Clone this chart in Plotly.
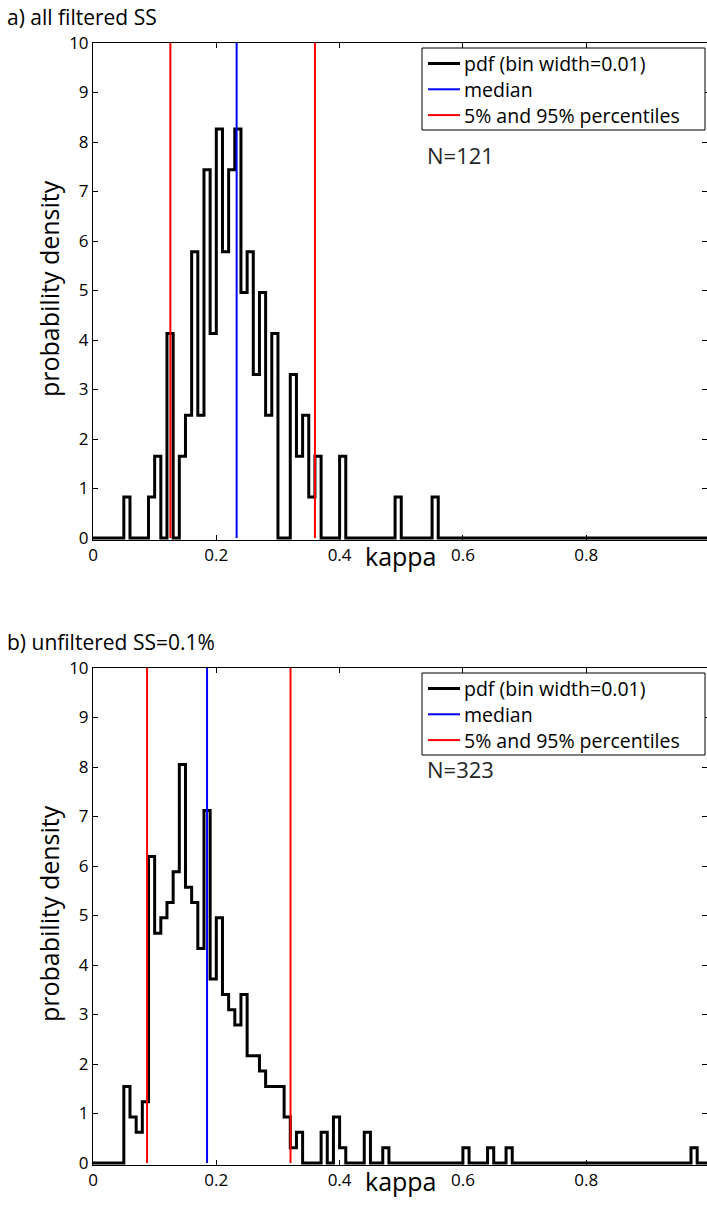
import numpy as np
import plotly.graph_objects as go

BIN_WIDTH = 0.01

# a) all filtered SS
n_a = 121
bins_a = [0.05, 0.09, 0.10, 0.12, 0.14, 0.15, 0.16, 0.17, 0.18, 0.19, 0.20, 0.21, 0.22, 0.23,
          0.24, 0.25, 0.26, 0.27, 0.28, 0.29, 0.32, 0.33, 0.34, 0.35, 0.36, 0.40, 0.49, 0.55]
counts_a = [1, 1, 2, 5, 2, 3, 7, 3, 9, 5, 10, 7, 9, 10,
            6, 7, 4, 6, 3, 5, 4, 2, 3, 1, 2, 2, 1, 1]
median_a = 0.233
pct_a = [0.1255, 0.360]

# b) unfiltered SS=0.1%
n_b = 323
bins_b = [0.05, 0.06, 0.07, 0.08, 0.09, 0.10, 0.11, 0.12, 0.13, 0.14, 0.15, 0.16, 0.17, 0.18,
          0.19, 0.20, 0.21, 0.22, 0.23, 0.24, 0.25, 0.26, 0.27, 0.28, 0.29, 0.30, 0.31, 0.32,
          0.33, 0.37, 0.39, 0.40, 0.44, 0.47, 0.60, 0.64, 0.67, 0.97]
counts_b = [5, 3, 2, 4, 20, 15, 16, 17, 19, 26, 18, 17, 14, 23,
            12, 16, 11, 10, 9, 11, 7, 7, 6, 5, 5, 5, 3, 1,
            2, 2, 3, 1, 2, 1, 1, 1, 1, 1]
median_b = 0.185
pct_b = [0.0877, 0.3204]

x_ticks = [0, 0.2, 0.4, 0.6, 0.8]
y_ticks = list(range(0, 11))
legend_labels = ["pdf (bin width=0.01)", "median", "5% and 95% percentiles"]
legend_colors = ["black", "#0000ff", "#ff0000"]
legend_widths = [3, 2, 2]

FONT = "Open Sans"
W, H = 707, 1218
M_L, M_R, M_T, M_B = 93, 0, 43, 53
PLOT_W = W - M_L - M_R
PAPER_H = H - M_T - M_B
Y_RANGE = [-0.04, 10]
PANEL_H = 497
X_RANGE = [0, PLOT_W / 616.5]
PANEL_TOPS = [43, 668]


def stairs(bins, counts, n):
    edges = np.round(np.arange(0, 1.0 + BIN_WIDTH / 2, BIN_WIDTH), 2)
    dens = np.zeros(len(edges) - 1)
    for b, c in zip(bins, counts):
        dens[int(round(b / BIN_WIDTH))] = c / (n * BIN_WIDTH)
    return edges, np.append(dens, dens[-1])


def py(px):
    return (H - M_B - px) / PAPER_H


def pxx(px):
    return (px - M_L) / PLOT_W


fig = go.Figure()

panels = [
    ("x", "y", bins_a, counts_a, n_a, median_a, pct_a),
    ("x2", "y2", bins_b, counts_b, n_b, median_b, pct_b),
]
for xa, ya, bins, counts, n, med, pct in panels:
    ex, ey = stairs(bins, counts, n)
    fig.add_trace(go.Scatter(x=ex, y=ey, mode="lines",
                             line=dict(color=legend_colors[0], width=legend_widths[0], shape="hv"),
                             name=legend_labels[0], xaxis=xa, yaxis=ya))
    fig.add_trace(go.Scatter(x=[med, med], y=[0, 10], mode="lines",
                             line=dict(color=legend_colors[1], width=legend_widths[1]),
                             name=legend_labels[1], xaxis=xa, yaxis=ya))
    fig.add_trace(go.Scatter(x=[pct[0], pct[0], None, pct[1], pct[1]], y=[0, 10, None, 0, 10],
                             mode="lines", line=dict(color=legend_colors[2], width=legend_widths[2]),
                             name=legend_labels[2], xaxis=xa, yaxis=ya))

# mirrored ticks on the right side (no right spine)
fig.add_trace(go.Scatter(x=[None], y=[None], xaxis="x", yaxis="y3", hoverinfo="skip"))
fig.add_trace(go.Scatter(x=[None], y=[None], xaxis="x2", yaxis="y4", hoverinfo="skip"))

dom_a = [(PAPER_H - PANEL_H) / PAPER_H, 1]
dom_b = [0, PANEL_H / PAPER_H]

TICK_FONT = dict(family=FONT, size=17, color="black")
xcommon = dict(range=X_RANGE, tickvals=x_ticks, ticktext=[f"{v:g}" for v in x_ticks],
               ticks="inside", ticklen=5, tickcolor="black", showline=True, linecolor="black",
               linewidth=1, mirror="ticks", showgrid=False, zeroline=False,
               tickfont=TICK_FONT, domain=[0, 1])
ycommon = dict(range=Y_RANGE, tickvals=y_ticks, ticks="inside", ticklen=5, tickcolor="black",
               showline=True, linecolor="black", linewidth=1, mirror=False, showgrid=False,
               zeroline=False, tickfont=TICK_FONT)
yright = dict(range=Y_RANGE, tickvals=y_ticks, ticks="inside", ticklen=5, tickcolor="black",
              showline=False, showgrid=False, zeroline=False, showticklabels=False, side="right")

annotations = []
shapes = []


def text(t, x, y, size, anchor="left", angle=0, color="black"):
    annotations.append(dict(text=t, x=x, y=y, xref="paper", yref="paper", xanchor=anchor,
                            yanchor="middle", showarrow=False, textangle=angle,
                            font=dict(family=FONT, size=size, color=color)))


text("a) all filtered SS", pxx(5), py(17), 21)
text("b) unfiltered SS=0.1%", pxx(5), py(642), 21)
for top in PANEL_TOPS:
    text("kappa", 0.5016, py(top + 513), 25, anchor="center")
    text("probability density", pxx(49), py(top + 246), 25, anchor="center", angle=-90)

# legend boxes
for top in PANEL_TOPS:
    shapes.append(dict(type="rect", xref="paper", yref="paper", layer="above",
                       x0=pxx(422), x1=pxx(705), y0=py(top + 87), y1=py(top + 5),
                       line=dict(color="black", width=1), fillcolor="white"))
    for i, (lab, col, lw) in enumerate(zip(legend_labels, legend_colors, legend_widths)):
        yy = top + 20.5 + 25.8 * i
        shapes.append(dict(type="line", xref="paper", yref="paper", layer="above",
                           x0=pxx(428), x1=pxx(460), y0=py(yy), y1=py(yy),
                           line=dict(color=col, width=lw)))
        text(lab, pxx(462), py(yy), 19.5)

annotations.append(dict(text=f"N={n_a}", x=0.5385, y=7.73, xref="x", yref="y", xanchor="left",
                        yanchor="middle", showarrow=False,
                        font=dict(family=FONT, size=22, color="#262626")))
annotations.append(dict(text=f"N={n_b}", x=0.5385, y=7.95, xref="x2", yref="y2", xanchor="left",
                        yanchor="middle", showarrow=False,
                        font=dict(family=FONT, size=22, color="#262626")))

fig.update_layout(
    width=W, height=H, autosize=False,
    margin=dict(l=M_L, r=M_R, t=M_T, b=M_B, pad=0),
    paper_bgcolor="white", plot_bgcolor="white",
    font=dict(family=FONT, color="black"),
    xaxis=dict(anchor="y", **xcommon),
    xaxis2=dict(anchor="y2", **xcommon),
    yaxis=dict(anchor="x", domain=dom_a, **ycommon),
    yaxis2=dict(anchor="x2", domain=dom_b, **ycommon),
    yaxis3=dict(overlaying="y", anchor="x", **yright),
    yaxis4=dict(overlaying="y2", anchor="x2", **yright),
    annotations=annotations,
    shapes=shapes,
    showlegend=False,
)

fig.write_html("out.html")
